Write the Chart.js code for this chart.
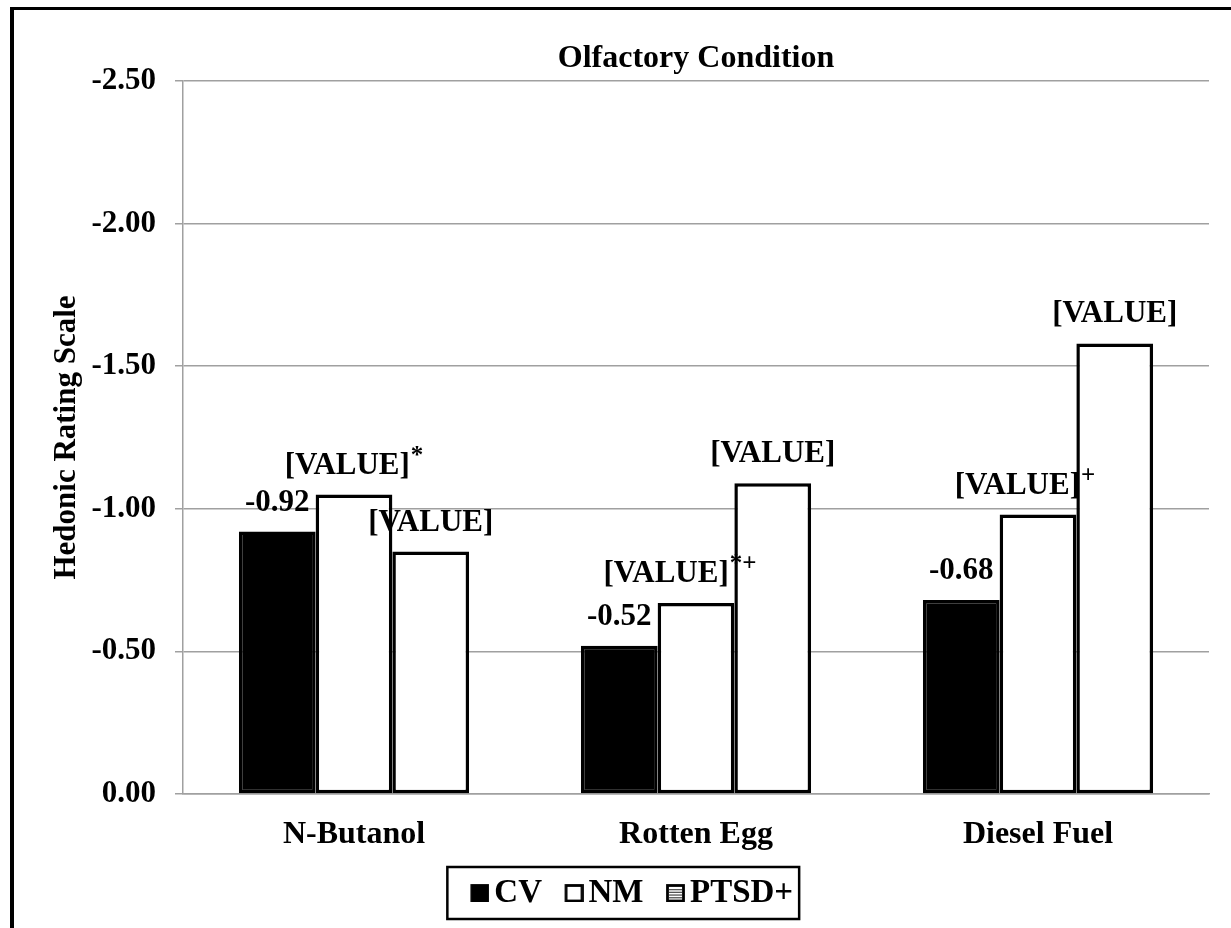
<!DOCTYPE html>
<html>
<head>
<meta charset="utf-8">
<script src="https://cdn.jsdelivr.net/npm/chart.js@4/dist/chart.umd.min.js"></script>
<style>
  html, body { margin: 0; padding: 0; background: #fff; }
  #wrap { position: relative; width: 1231px; height: 928px; overflow: hidden; }
  #frame { position: absolute; left: 10px; top: 7px; width: 1240px; height: 940px;
           border-left: 4px solid #000; border-top: 3px solid #000; pointer-events: none; }
</style>
</head>
<body>
<div id="wrap">
  <canvas id="chart" width="1231" height="928"></canvas>
  <div id="frame"></div>
</div>
<script>
// values (axis runs from 0 at the bottom to -2.50 at the top)
const categories = ['N-Butanol', 'Rotten Egg', 'Diesel Fuel'];
const cvValues   = [-0.92, -0.52, -0.68];
const nmValues   = [-1.05, -0.67, -0.98];
const ptsdValues = [-0.85, -1.09, -1.58];
const nmMarks    = ['*', '*+', '+'];
const ptsdMarks  = ['', '', ''];
const yTicks     = [0, -0.5, -1, -1.5, -2, -2.5];

const serif = "'Liberation Serif', 'Times New Roman', Times, serif";
Chart.defaults.font.family = serif;
Chart.defaults.font.weight = 'bold';
Chart.defaults.color = '#000';

// legend swatch: square sits at the right end of a wider image so the text stays close
function makeIcon(fill, stripes) {
  const c = document.createElement('canvas');
  c.width = 49; c.height = 18;
  const g = c.getContext('2d');
  g.fillStyle = fill;
  g.fillRect(31, 1, 17, 17);
  if (stripes) {
    g.fillStyle = '#555';
    for (let y = 5; y <= 14; y += 2.7) g.fillRect(33, y, 13, 1.3);
  }
  g.lineWidth = 2.8;
  g.strokeStyle = '#000';
  g.strokeRect(31.5, 1.5, 16, 15.5);
  return c;
}
const legendIcons = [makeIcon('#000', false), makeIcon('#fff', false), makeIcon('#fff', true)];

// text above each bar, with an optional superscript mark
const valueLabels = {
  id: 'valueLabels',
  afterDatasetsDraw(chart, args, opts) {
    const ctx = chart.ctx;
    ctx.save();
    ctx.fillStyle = '#000';
    ctx.textAlign = 'left';
    ctx.textBaseline = 'alphabetic';
    chart.data.datasets.forEach((ds, di) => {
      const meta = chart.getDatasetMeta(di);
      const shifts = opts.shift[di] || [];
      meta.data.forEach((bar, i) => {
        const main = ds.labelText[i];
        const mark = ds.labelMarks ? ds.labelMarks[i] : '';
        ctx.font = 'bold 31px ' + serif;
        const w1 = ctx.measureText(main).width;
        ctx.font = 'bold 25px ' + serif;
        const w2 = mark ? ctx.measureText(mark).width + 1 : 0;
        const x0 = bar.x + (shifts[i] || 0) - (w1 + w2) / 2;
        const y = bar.y - 21;
        ctx.font = 'bold 31px ' + serif;
        ctx.fillText(main, x0, y);
        if (mark) {
          ctx.font = 'bold 25px ' + serif;
          ctx.fillText(mark, x0 + w1 + 1, y - 11);
        }
      });
    });
    ctx.restore();
  }
};

// box drawn around the legend row
const legendFrame = {
  id: 'legendFrame',
  afterDraw(chart) {
    const hb = chart.legend.legendHitBoxes;
    if (!hb || !hb.length) return;
    const last = hb[hb.length - 1];
    const left = hb[0].left - 4.5;
    const right = last.left + last.width + 6;
    const cy = hb[0].top + hb[0].height / 2;
    const ctx = chart.ctx;
    ctx.save();
    ctx.lineWidth = 2.5;
    ctx.strokeStyle = '#000';
    ctx.strokeRect(left, cy - 26, right - left, 52);
    ctx.restore();
  }
};

const barStyle = {
  borderColor: '#000',
  borderWidth: 3.5,
  borderSkipped: false,
  categoryPercentage: 0.673,
  barPercentage: 1.0
};

new Chart(document.getElementById('chart'), {
  type: 'bar',
  data: {
    labels: categories,
    datasets: [
      { label: 'CV', data: cvValues, backgroundColor: '#000', ...barStyle,
        labelText: cvValues.map(v => v.toFixed(2)) },
      { label: 'NM', data: nmValues, backgroundColor: '#fff', ...barStyle,
        labelText: nmValues.map(() => '[VALUE]'), labelMarks: nmMarks },
      { label: 'PTSD+', data: ptsdValues, backgroundColor: '#fff', ...barStyle,
        labelText: ptsdValues.map(() => '[VALUE]'), labelMarks: ptsdMarks }
    ]
  },
  options: {
    responsive: false,
    animation: false,
    layout: { padding: { left: 36, right: 22, top: 0, bottom: 8.5 } },
    plugins: {
      tooltip: { enabled: false },
      title: {
        display: true,
        text: 'Olfactory Condition',
        fullSize: false,
        color: '#000',
        font: { size: 32, weight: 'bold' },
        padding: { top: 40, bottom: 2.6 }
      },
      legend: {
        position: 'bottom',
        labels: {
          usePointStyle: true,
          boxWidth: 26,
          padding: 4,
          color: '#000',
          font: { size: 33, weight: 'bold' },
          generateLabels(chart) {
            const items = Chart.defaults.plugins.legend.labels.generateLabels(chart);
            items.forEach((it, i) => { it.pointStyle = legendIcons[i]; });
            return items;
          }
        }
      },
      valueLabels: { shift: { 1: [0, -16, -13] } }
    },
    scales: {
      x: {
        grid: { display: false, drawTicks: false },
        border: { color: '#a0a0a0', width: 1.5 },
        ticks: { padding: 22, color: '#000', font: { size: 32, weight: 'bold' } },
        afterFit: s => { s.height = 78.5; }
      },
      y: {
        reverse: true,
        min: -2.5,
        max: 0,
        afterBuildTicks: s => { s.ticks = yTicks.map(v => ({ value: v })); },
        afterFit: s => { s.width = 147; },
        border: { color: '#a0a0a0', width: 1.5 },
        grid: { color: '#a0a0a0', lineWidth: 1.5, tickLength: 8 },
        ticks: {
          padding: 19,
          color: '#000',
          font: { size: 31, weight: 'bold' },
          callback: v => Number(v).toFixed(2)
        },
        title: {
          display: true,
          text: 'Hedonic Rating Scale',
          color: '#000',
          font: { size: 31, weight: 'bold' },
          padding: { top: 12, bottom: 0 }
        }
      }
    }
  },
  plugins: [valueLabels, legendFrame]
});
</script>
</body>
</html>
